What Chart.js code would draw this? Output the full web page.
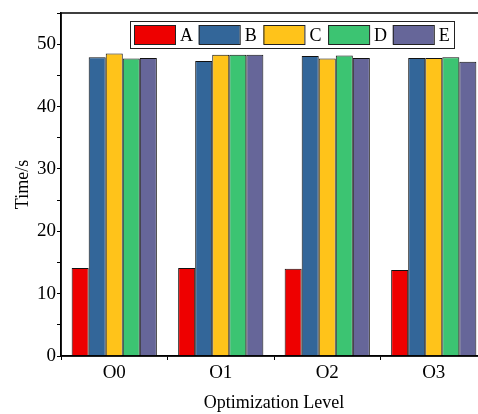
<!DOCTYPE html>
<html>
<head>
<meta charset="utf-8">
<script src="https://cdn.jsdelivr.net/npm/chart.js@4.4.1/dist/chart.umd.min.js"></script>
<style>
  html, body { margin: 0; padding: 0; background: #fff; overflow: hidden; }
  #wrap { width: 490px; height: 414px; }
</style>
</head>
<body>
<div id="wrap"><canvas id="chart" width="490" height="414"></canvas></div>
<script>
// data
const levels = ['O0', 'O1', 'O2', 'O3'];
const seriesNames = ['A', 'B', 'C', 'D', 'E'];
const valuesA = [14.1, 14.1, 14.0, 13.8];
const valuesB = [47.9, 47.3, 48.1, 47.8];
const valuesC = [48.5, 48.3, 47.7, 47.8];
const valuesD = [47.7, 48.3, 48.2, 47.9];
const valuesE = [47.8, 48.3, 47.8, 47.2];
const colors = ['#EE0000', '#336699', '#FFC31A', '#3CC472', '#666699'];
const yTicks = [0, 10, 20, 30, 40, 50];

const FONT = '"Liberation Serif", "Times New Roman", serif';

const allValues = [valuesA, valuesB, valuesC, valuesD, valuesE];
const datasets = seriesNames.map((name, i) => ({
    label: name,
    data: allValues[i],
    backgroundColor: colors[i],
    borderColor: '#111',
    borderWidth: 1,
    barPercentage: 1.0,
    categoryPercentage: 0.8
}));

// frame around the plot + legend drawn inside it (like the original)
const framePlugin = {
    id: 'frame',
    afterDraw(chart) {
        const ctx = chart.ctx;
        const a = chart.chartArea;
        ctx.save();
        ctx.strokeStyle = '#000';
        ctx.lineWidth = 1.5;
        ctx.strokeRect(a.left, a.top, a.right - a.left, a.bottom - a.top);

        // legend box
        const bx = 130, by = 21, bw = 324, bh = 27;
        ctx.fillStyle = '#fff';
        ctx.fillRect(bx, by, bw, bh);
        ctx.lineWidth = 1;
        ctx.strokeStyle = '#222';
        ctx.strokeRect(bx + 0.5, by + 0.5, bw, bh);
        ctx.font = '18px ' + FONT;
        ctx.textBaseline = 'middle';
        chart.data.datasets.forEach((ds, i) => {
            const x = bx + 4 + i * 64.7;
            ctx.fillStyle = ds.backgroundColor;
            ctx.fillRect(x, by + 4, 41, 19);
            ctx.strokeStyle = '#222';
            ctx.strokeRect(x + 0.5, by + 4.5, 41, 19);
            ctx.fillStyle = '#000';
            ctx.fillText(ds.label, x + 46, by + 15);
        });
        ctx.restore();
    }
};

new Chart(document.getElementById('chart'), {
    type: 'bar',
    data: { labels: levels, datasets: datasets },
    plugins: [framePlugin],
    options: {
        responsive: false,
        animation: false,
        layout: { padding: { top: 13, right: 3, left: 0, bottom: 0 } },
        plugins: { legend: { display: false }, tooltip: { enabled: false } },
        scales: {
            x: {
                grid: { offset: true, drawOnChartArea: false, tickLength: 4, color: '#000' },
                border: { color: '#000', width: 1.5 },
                ticks: { color: '#000', font: { family: FONT, size: 19 }, padding: 2 },
                title: { display: true, text: 'Optimization Level', color: '#000',
                         font: { family: FONT, size: 18 }, padding: { top: 4, bottom: 0 } },
                afterFit(scale) { scale.height = 58; }
            },
            y: {
                min: 0,
                max: 55,
                grid: { drawOnChartArea: false, tickLength: 4, color: '#000' },
                border: { color: '#000', width: 1.5 },
                ticks: {
                    stepSize: 5,
                    color: '#000',
                    font: { family: FONT, size: 19 },
                    padding: 1,
                    callback: v => yTicks.includes(v) ? v : ''
                },
                title: { display: true, text: 'Time/s', color: '#000',
                         font: { family: FONT, size: 18 }, padding: { top: 12, bottom: 0 } },
                afterFit(scale) { scale.width = 61; }
            }
        }
    }
});
</script>
</body>
</html>
